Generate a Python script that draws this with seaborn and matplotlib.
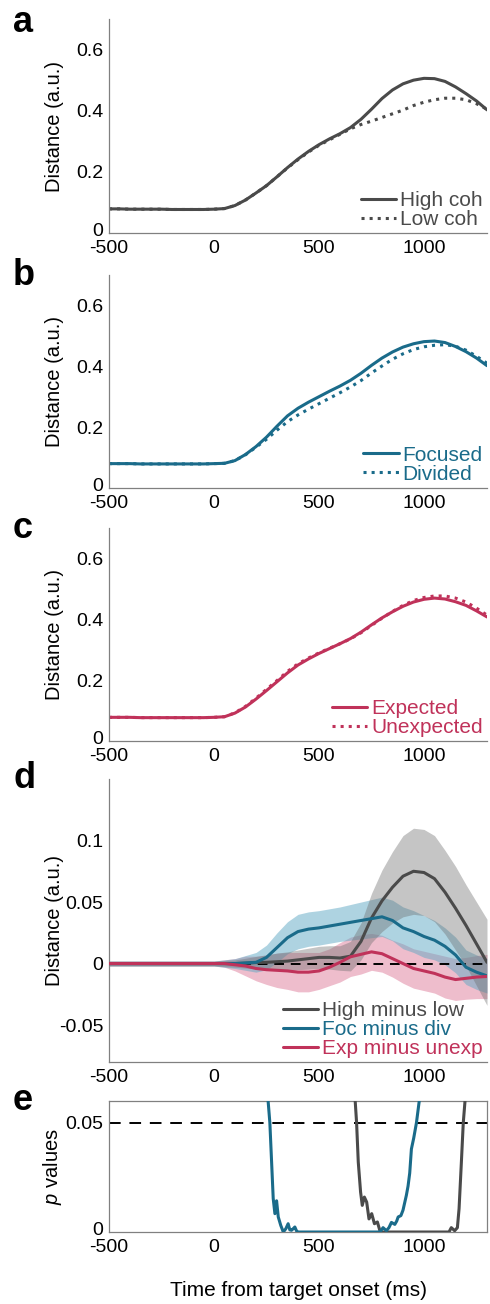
import numpy as np
import pandas as pd
import matplotlib
matplotlib.use("Agg")
import matplotlib.pyplot as plt
import matplotlib.transforms as mtransforms
import seaborn as sns

# ---------------- data ----------------
time_ms = np.arange(-500, 1301, 50)  # -500 ... 1300

high_coh = [0.079, 0.079, 0.078, 0.078, 0.078, 0.078, 0.077, 0.077, 0.077, 0.077, 0.078,
            0.080, 0.090, 0.108, 0.131, 0.155, 0.184, 0.214, 0.242, 0.267, 0.289, 0.308,
            0.325, 0.345, 0.372, 0.405, 0.440, 0.468, 0.488, 0.500, 0.506, 0.505, 0.496,
            0.478, 0.456, 0.432, 0.403]
low_coh = [0.079, 0.079, 0.078, 0.078, 0.078, 0.078, 0.077, 0.077, 0.077, 0.077, 0.078,
           0.080, 0.090, 0.108, 0.131, 0.155, 0.184, 0.213, 0.240, 0.265, 0.287, 0.305,
           0.323, 0.341, 0.355, 0.366, 0.378, 0.390, 0.402, 0.417, 0.428, 0.436, 0.441,
           0.441, 0.436, 0.423, 0.405]

focused = [0.080, 0.080, 0.080, 0.079, 0.079, 0.079, 0.079, 0.079, 0.079, 0.079, 0.080,
           0.081, 0.090, 0.110, 0.136, 0.167, 0.203, 0.237, 0.262, 0.282, 0.300, 0.318,
           0.335, 0.354, 0.377, 0.403, 0.427, 0.447, 0.463, 0.474, 0.481, 0.483, 0.478,
           0.465, 0.448, 0.427, 0.402]
divided = [0.080, 0.080, 0.080, 0.079, 0.079, 0.079, 0.079, 0.079, 0.079, 0.079, 0.080,
           0.081, 0.090, 0.109, 0.134, 0.160, 0.190, 0.218, 0.240, 0.259, 0.277, 0.295,
           0.313, 0.332, 0.353, 0.378, 0.401, 0.423, 0.441, 0.455, 0.464, 0.469, 0.471,
           0.466, 0.453, 0.433, 0.410]

expected = [0.078, 0.078, 0.078, 0.077, 0.077, 0.077, 0.077, 0.077, 0.077, 0.077, 0.078,
            0.080, 0.092, 0.112, 0.138, 0.166, 0.195, 0.224, 0.250, 0.270, 0.288, 0.304,
            0.320, 0.337, 0.358, 0.382, 0.405, 0.425, 0.443, 0.457, 0.466, 0.470, 0.467,
            0.458, 0.446, 0.428, 0.408]
unexpected = [0.078, 0.078, 0.078, 0.077, 0.077, 0.077, 0.077, 0.077, 0.077, 0.077, 0.078,
              0.080, 0.093, 0.114, 0.141, 0.170, 0.199, 0.229, 0.254, 0.273, 0.290, 0.305,
              0.320, 0.336, 0.356, 0.380, 0.404, 0.426, 0.446, 0.462, 0.472, 0.477, 0.477,
              0.470, 0.457, 0.437, 0.414]

# differences (panel d) and their error half-widths
high_minus_low = [0, 0, 0, 0, 0, 0, 0, 0, 0, 0, 0,
                  0.0, 0.0, 0.0003, 0.0008, 0.001, 0.0015, 0.002, 0.003, 0.004, 0.005, 0.005,
                  0.0045, 0.006, 0.018, 0.037, 0.051, 0.062, 0.071, 0.075, 0.074, 0.069, 0.058,
                  0.045, 0.031, 0.016, 0.001]
high_minus_low_err = [0.002] * 11 + [0.0025, 0.003, 0.004, 0.005, 0.006, 0.007, 0.0075, 0.008,
                                     0.0085, 0.009, 0.0095, 0.010, 0.012, 0.015, 0.020, 0.025,
                                     0.029, 0.033, 0.035, 0.035, 0.035, 0.034, 0.034, 0.033,
                                     0.034, 0.035]
foc_minus_div = [0, 0, 0, 0, 0, 0, 0, 0, 0, 0, 0,
                 0.0, 0.0, 0.0005, 0.001, 0.005, 0.013, 0.021, 0.026, 0.028, 0.029, 0.0305,
                 0.032, 0.0335, 0.035, 0.0365, 0.038, 0.035, 0.029, 0.026, 0.022, 0.019, 0.014,
                 0.007, -0.003, -0.007, -0.010]
foc_minus_div_err = [0.002] * 11 + [0.003, 0.004, 0.006, 0.008, 0.010, 0.012, 0.013, 0.014,
                                    0.014, 0.014, 0.014, 0.014, 0.0145, 0.015, 0.0155, 0.016,
                                    0.0165, 0.017, 0.017, 0.017, 0.016, 0.015, 0.0145, 0.014,
                                    0.014, 0.014]
exp_minus_unexp = [0, 0, 0, 0, 0, 0, 0, 0, 0, 0, 0,
                   0.0, -0.001, -0.002, -0.004, -0.005, -0.0055, -0.006, -0.007, -0.007, -0.006,
                   -0.003, 0.001, 0.0055, 0.0075, 0.0095, 0.008, 0.004, 0.0, -0.004, -0.006,
                   -0.008, -0.011, -0.013, -0.012, -0.011, -0.0105]
exp_minus_unexp_err = [0.002] * 11 + [0.003, 0.005, 0.008, 0.010, 0.012, 0.014, 0.015, 0.016,
                                      0.016, 0.015, 0.015, 0.016, 0.016, 0.016, 0.015, 0.015,
                                      0.015, 0.016, 0.016, 0.016, 0.016, 0.017, 0.017, 0.017,
                                      0.0175, 0.018]

# p values (panel e)
p_foc_time = [-500, 200, 256, 266, 282, 290, 298, 306, 318, 330, 342, 353, 361, 369, 377,
              385, 393, 401, 790, 805, 821, 833, 845, 861, 870, 877, 890, 900, 916, 924,
              932, 940, 951, 964, 980, 1000, 1300]
p_foc = [0.5, 0.3, 0.062, 0.05, 0.0153, 0.0084, 0.0143, 0.0069, 0.003, 0.0, 0.0015, 0.0038,
         0.001, 0.0008, 0.0015, 0.0023, 0.0005, 0.0, 0.0, 0.002, 0.0006, 0.002, 0.0044,
         0.0035, 0.005, 0.0069, 0.0075, 0.010, 0.0168, 0.021, 0.027, 0.038, 0.043, 0.05,
         0.062, 0.2, 0.5]
p_coh_time = [-500, 600, 671, 679, 687, 698, 706, 716, 727, 738, 751, 764, 778, 790, 800,
              1119, 1130, 1146, 1159, 1167, 1178, 1187, 1197, 1230, 1300]
p_coh = [0.5, 0.3, 0.062, 0.05, 0.032, 0.0183, 0.0122, 0.016, 0.0137, 0.006, 0.0084, 0.0038,
         0.0046, 0.0006, 0.0, 0.0, 0.002, 0.0006, 0.002, 0.0107, 0.032, 0.05, 0.062, 0.3, 0.5]

x_ticks = [-500, 0, 500, 1000]
x_ticklabels = ["-500", "0", "500", "1000"]
dist_ticks = [0, 0.2, 0.4, 0.6]
dist_ticklabels = ["0", "0.2", "0.4", "0.6"]
diff_ticks = [-0.05, 0, 0.05, 0.1]
diff_ticklabels = ["-0.05", "0", "0.05", "0.1"]
p_ticks = [0, 0.02, 0.04, 0.05]
p_ticklabels = ["0", "", "", "0.05"]

# ---------------- style ----------------
sns.set_style("white")
plt.rcParams["font.family"] = ["Liberation Sans", "DejaVu Sans"]
plt.rcParams["axes.unicode_minus"] = False
plt.rcParams["mathtext.fontset"] = "custom"
plt.rcParams["mathtext.it"] = "Liberation Sans:italic"
plt.rcParams["mathtext.rm"] = "Liberation Sans"
plt.rcParams["text.color"] = "black"
plt.rcParams["axes.labelcolor"] = "black"

GRAY = "#4a4a4a"
TEAL = "#1a6b8a"
RED = "#c0325a"
SPINE = "#808080"
BAND = {"gray": ("#6e6e6e", 0.4), "teal": ("#5fa8c4", 0.5), "red": ("#d65a80", 0.4)}
FS_TICK = 14
FS_LAB = 14.5
FS_LEG = 15
LW = 2.2

fig = plt.figure(figsize=(4.9, 13.04), dpi=100)
L, W = 109 / 490, 378 / 490
pos = {
    "a": (L, 0.8213, W, 0.1641),
    "b": (L, 0.6258, W, 0.1633),
    "c": (L, 0.4317, W, 0.1633),
    "d": (L, 0.1856, W, 0.2170),
    "e": (L, 0.0552, W, 0.1005),
}
letter_y = {"a": 32, "b": 285, "c": 538, "d": 788, "e": 1110}


def style(ax, box=False):
    for s in ["left", "bottom", "top", "right"]:
        ax.spines[s].set_color(SPINE)
        ax.spines[s].set_linewidth(0.9)
        ax.spines[s].set_visible(box or s in ("left", "bottom"))
    ax.tick_params(direction="in", length=4, width=0.8, color=SPINE,
                   labelcolor="black", labelsize=FS_TICK)
    ax.tick_params(axis="x", pad=5)
    ax.tick_params(axis="y", pad=4)
    ax.set_xlim(-500, 1300)
    ax.set_xticks(x_ticks)
    ax.set_xticklabels(x_ticklabels)
    ax.set_xlabel("")


def lift_zero_label(ax):
    lab = ax.get_yticklabels()[0]
    lab.set_transform(lab.get_transform()
                      + mtransforms.ScaledTranslation(0, 2.5 / 72, fig.dpi_scale_trans))


def legend(ax, handles=None, labels=None):
    kw = dict(loc="lower right", frameon=False, fontsize=FS_LEG, handlelength=1.7,
              handletextpad=0.2, labelspacing=0.0, borderaxespad=0.1, borderpad=0.1,
              labelcolor="linecolor")
    if handles is None:
        ax.legend(**kw)
    else:
        ax.legend(handles, labels, **kw)


panels_abc = [
    ("a", high_coh, low_coh, GRAY, "High coh", "Low coh"),
    ("b", focused, divided, TEAL, "Focused", "Divided"),
    ("c", expected, unexpected, RED, "Expected", "Unexpected"),
]
for key, s1, s2, col, lab1, lab2 in panels_abc:
    ax = fig.add_axes(pos[key])
    df = pd.DataFrame({"t": time_ms, "v1": s1, "v2": s2})
    sns.lineplot(data=df, x="t", y="v2", ax=ax, color=col, lw=LW, linestyle=":", label=lab2)
    sns.lineplot(data=df, x="t", y="v1", ax=ax, color=col, lw=LW, linestyle="-", label=lab1)
    h, l = ax.get_legend_handles_labels()
    style(ax)
    ax.set_ylim(0, 0.7)
    ax.set_yticks(dist_ticks)
    ax.set_yticklabels(dist_ticklabels)
    ax.set_ylabel("Distance (a.u.)", fontsize=FS_LAB)
    ax.yaxis.set_label_coords(-0.12, 0.5)
    legend(ax, h[::-1], l[::-1])
    lift_zero_label(ax)

# panel d
ax = fig.add_axes(pos["d"])
dfd = pd.DataFrame({"t": time_ms, "hl": high_minus_low, "hle": high_minus_low_err,
                    "fd": foc_minus_div, "fde": foc_minus_div_err,
                    "eu": exp_minus_unexp, "eue": exp_minus_unexp_err})
for m, e, b in [("eu", "eue", "red"), ("fd", "fde", "teal"), ("hl", "hle", "gray")]:
    c, a = BAND[b]
    ax.fill_between(dfd["t"], dfd[m] - dfd[e], dfd[m] + dfd[e], color=c, alpha=a, lw=0)
ax.axhline(0, color="black", lw=1.4, ls=(0, (5, 3.5)), zorder=3)
sns.lineplot(data=dfd, x="t", y="hl", ax=ax, color=GRAY, lw=LW, label="High minus low", zorder=4)
sns.lineplot(data=dfd, x="t", y="fd", ax=ax, color=TEAL, lw=LW, label="Foc minus div", zorder=4)
sns.lineplot(data=dfd, x="t", y="eu", ax=ax, color=RED, lw=LW, label="Exp minus unexp", zorder=4)
style(ax)
ax.set_ylim(-0.08, 0.15)
ax.set_yticks(diff_ticks)
ax.set_yticklabels(diff_ticklabels)
ax.set_ylabel("Distance (a.u.)", fontsize=FS_LAB)
ax.yaxis.set_label_coords(-0.12, 0.5)
legend(ax)

# panel e
ax = fig.add_axes(pos["e"])
ax.axhline(0.05, color="black", lw=1.4, ls=(0, (6, 4.5)), zorder=2)
sns.lineplot(x=p_coh_time, y=p_coh, ax=ax, color=GRAY, lw=LW, zorder=3)
sns.lineplot(x=p_foc_time, y=p_foc, ax=ax, color=TEAL, lw=LW, zorder=4)
style(ax, box=True)
ax.set_ylim(0, 0.06)
ax.set_yticks(p_ticks)
ax.set_yticklabels(p_ticklabels)
ax.set_ylabel(r"$\mathit{p}$ values", fontsize=FS_LAB)
ax.yaxis.set_label_coords(-0.12, 0.5)
ax.set_xlabel("Time from target onset (ms)", fontsize=15)
ax.xaxis.set_label_coords(0.5, -0.37)
lift_zero_label(ax)

for k, y in letter_y.items():
    fig.text(13 / 490, 1 - y / 1304, k, fontsize=26, fontweight="bold", ha="left",
             va="baseline", color="black")

fig.savefig("out.png", dpi=100)
